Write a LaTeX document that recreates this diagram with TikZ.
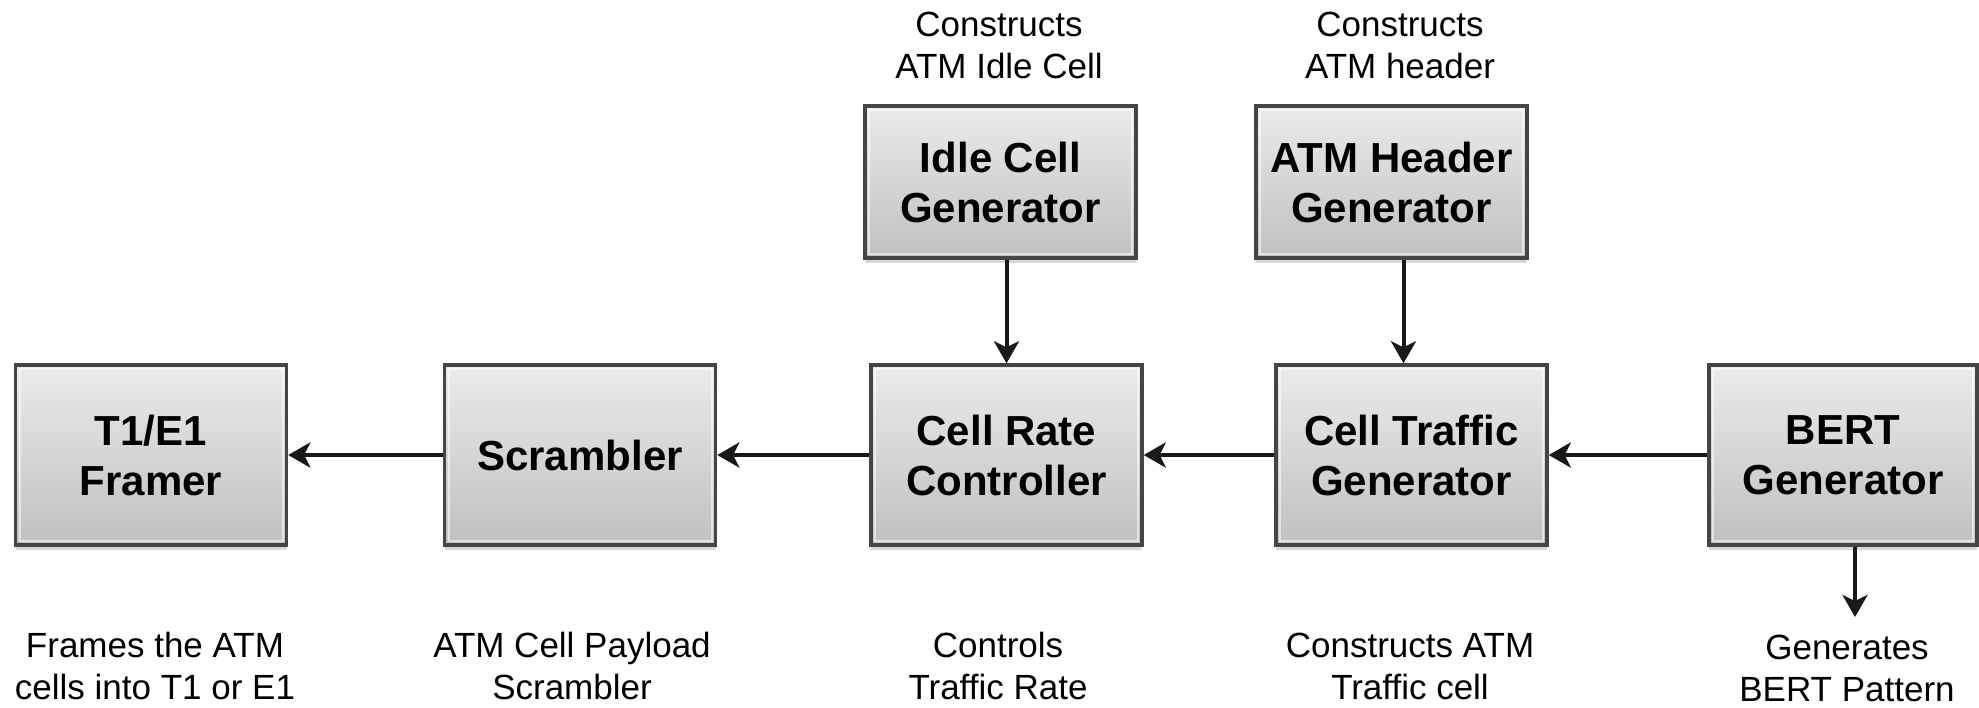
\documentclass[tikz,border=0pt]{standalone}
\usepackage{fontspec}
\setmainfont{Liberation Sans}
\usetikzlibrary{arrows.meta,shadows,calc}

\definecolor{boxedge}{HTML}{454545}
\definecolor{boxtop}{HTML}{EBEBEB}
\definecolor{boxbot}{HTML}{C0C0C0}

\begin{document}
\begin{tikzpicture}[x=0.5pt,y=-0.5pt,
  block/.style={draw=boxedge, line width=1.7pt, top color=boxtop, bottom color=boxbot,
    minimum width=135.5pt, minimum height=90pt, inner sep=0pt, align=center,
    font=\fontsize{21}{25}\selectfont\bfseries,
    drop shadow={shadow xshift=0pt, shadow yshift=-2.5pt, opacity=0.15, fill=black},
    path picture={\draw[white, opacity=.55, line width=1pt]
      ([shift={(2pt,-2pt)}]path picture bounding box.north west) rectangle
      ([shift={(-2pt,2pt)}]path picture bounding box.south east);}},
  topblock/.style={block, minimum height=76pt},
  lab/.style={font=\fontsize{17.5}{21}\selectfont, align=center, inner sep=0pt},
  arr/.style={-{Stealth[length=11pt,width=12.5pt,inset=3pt]}, line width=2pt, draw=black!90}]

\useasboundingbox (0,0) rectangle (1979,707);

% main chain of blocks
\node[block] (t1)  at (151,455)    {T1/E1\\Framer};
\node[block] (scr) at (580,455)    {Scrambler};
\node[block] (crc) at (1006.5,455) {Cell Rate\\Controller};
\node[block] (ctg) at (1411.5,455) {Cell Traffic\\Generator};
\node[block, minimum width=134pt] (bert) at (1843,455) {BERT\\Generator};

% generators feeding the chain from above
\node[topblock] (idle) at (1000.5,182) {Idle Cell\\Generator};
\node[topblock] (hdr)  at (1391.5,182) {ATM Header\\Generator};

% descriptions
\node[lab] (idlelab) at (999,45)   {Constructs\\ATM Idle Cell};
\node[lab] (hdrlab)  at (1400,45)  {Constructs\\ATM header};
\node[lab] (t1lab)   at (155,666)  {Frames the ATM\\cells into T1 or E1};
\node[lab] (scrlab)  at (572,666)  {ATM Cell Payload\\Scrambler};
\node[lab] (crclab)  at (998,666)  {Controls\\Traffic Rate};
\node[lab] (ctglab)  at (1410,666) {Constructs ATM\\Traffic cell};
\node[lab] (bertlab) at (1847,668) {Generates\\BERT Pattern};

% data flow
\draw[arr] (scr.west)  -- (t1.east);
\draw[arr] (crc.west)  -- (scr.east);
\draw[arr] (ctg.west)  -- (crc.east);
\draw[arr] (bert.west) -- (ctg.east);
\draw[arr] (idle.south -| crc.north) -- (crc.north);
\draw[arr] ([xshift=-4pt]ctg.north |- hdr.south) -- ([xshift=-4pt]ctg.north);
\coordinate (bertout) at (1855,617);
\draw[arr] (bert.south -| bertout) -- (bertout);

\end{tikzpicture}
\end{document}
